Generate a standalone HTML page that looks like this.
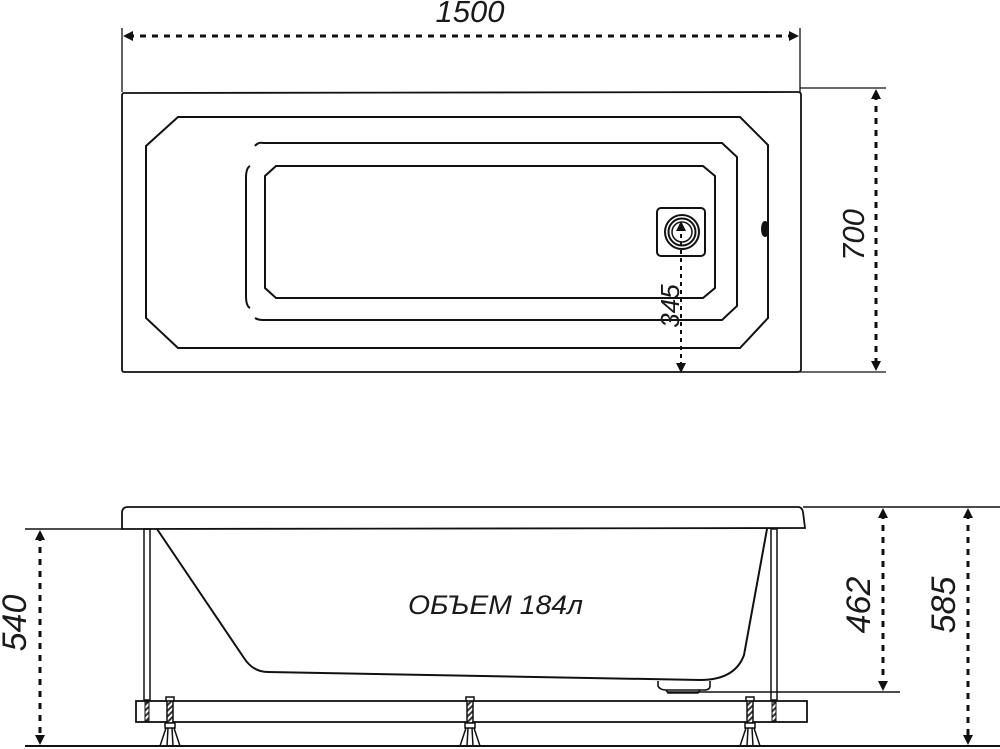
<!DOCTYPE html>
<html><head><meta charset="utf-8"><style>
html,body{margin:0;padding:0;background:#fff;}
svg{display:block;}
text{font-family:"Liberation Sans",sans-serif;font-style:italic;fill:#1a1a1a;}
</style></head><body>
<svg width="1000" height="749" viewBox="0 0 1000 749" xmlns="http://www.w3.org/2000/svg">
<defs>
<marker id="a" viewBox="0 0 10 10" refX="5" refY="5" markerWidth="10" markerHeight="10" orient="auto-start-reverse" markerUnits="userSpaceOnUse"><path d="M0,0 L10,5 L0,10 z" fill="#111"/></marker>
<pattern id="h" width="4" height="4" patternUnits="userSpaceOnUse" patternTransform="rotate(45)"><rect width="4" height="4" fill="#fff"/><rect width="2" height="4" fill="#333"/></pattern>
</defs>
<g fill="none" stroke="#111" stroke-width="2">
<!-- TOP VIEW -->
<path d="M124,93 L798,92 Q801,92 801,95 L801,369 Q801,372 798,372 L124,372 Q122,372 122,369 L122,96 Q122,93 124,93 Z" stroke-width="1.8"/>
<line x1="122" y1="28" x2="122" y2="92" stroke-width="1.3"/>
<line x1="800" y1="28" x2="800" y2="92" stroke-width="1.3"/>
<line x1="800" y1="88" x2="886" y2="88" stroke-width="1.3"/>
<line x1="800" y1="372" x2="886" y2="372" stroke-width="1.3"/>
<path d="M178,117 L740,117 L768,145 L768,318 L740,348 L178,348 L146,318 L146,146 Z"/>
<path d="M263,143 Q258,142 255,146 M263,143 L722,143 L737,157 L737,306 L722,320 L263,320 Q258,320 255,318"/>
<path d="M250,166 Q246,168 246,178 L246,296 Q246,306 250,308"/>
<path d="M276,166 L703,166 L715,176 L715,288 L703,298 L276,298 L265,288 L265,176 Z"/>
<rect x="657" y="208" width="48" height="48" rx="4"/>
<circle cx="682" cy="232" r="17"/><circle cx="682" cy="232" r="13.5"/><circle cx="682" cy="232" r="10" stroke-width="1.5"/>
<ellipse cx="765" cy="229" rx="3" ry="7" fill="#111"/>
<!-- dims top -->
<line x1="128" y1="36" x2="794" y2="36" stroke-width="3" stroke-dasharray="6,6" marker-start="url(#a)" marker-end="url(#a)"/>
<line x1="876" y1="94" x2="876" y2="366" stroke-width="3" stroke-dasharray="6,6" marker-start="url(#a)" marker-end="url(#a)"/>
<line x1="681" y1="226" x2="681" y2="368" stroke-width="2" stroke-dasharray="4,4" marker-start="url(#a)" marker-end="url(#a)"/>

<!-- SIDE VIEW -->
<path d="M128,507 L798,507 Q802,507 803,512 L805,528 L122,529 L122,513 Q122,507 128,507 Z" stroke-width="1.8"/>
<line x1="25" y1="529" x2="122" y2="529" stroke-width="1.5"/>
<line x1="803" y1="507" x2="1000" y2="507" stroke-width="1.5"/>
<path d="M157,529 L244,658 Q253,672 268,672 L700,680 Q735,680 744,655 L767,529"/>
<path d="M658,681 L658,686 Q660,690 666,690 L704,690 Q710,690 710,686 L710,681 M666,690 L668,693 L698,693 L700,690" stroke-width="1.6"/>
<line x1="667" y1="692" x2="900" y2="692" stroke-width="1.5"/>
<rect x="144" y="529" width="6" height="171" stroke-width="1.5"/>
<rect x="771" y="529" width="6" height="171" stroke-width="1.5"/>
<rect x="136" y="701" width="671" height="21" stroke-width="1.8"/>
<line x1="25" y1="746" x2="1000" y2="746" stroke-width="2"/>
</g>
<!-- leg bolts inside platform -->
<rect x="145" y="702" width="4" height="19" fill="url(#h)" stroke="#111" stroke-width="1"/>
<rect x="772" y="702" width="4" height="19" fill="url(#h)" stroke="#111" stroke-width="1"/>
<!-- screws -->
<g stroke="#111" stroke-width="1.5">
<g id="s">
<rect x="166" y="697" width="8" height="4" fill="#fff"/>
<rect x="167" y="701" width="6" height="22" fill="url(#h)"/>
<rect x="165" y="723" width="10" height="5" fill="#fff"/>
<path d="M166,728 L160,746 M174,728 L180,746 M168,728 L167,746 M172,728 L173,746" fill="none"/>
</g>
<use href="#s" x="300"/>
<use href="#s" x="580"/>
</g>
<!-- dims side -->
<g fill="none" stroke="#111" stroke-width="3" stroke-dasharray="6,6">
<line x1="40" y1="535" x2="40" y2="740" marker-start="url(#a)" marker-end="url(#a)"/>
<line x1="883" y1="513" x2="883" y2="686" marker-start="url(#a)" marker-end="url(#a)"/>
<line x1="968" y1="513" x2="968" y2="740" marker-start="url(#a)" marker-end="url(#a)"/>
</g>
<!-- labels -->
<text x="470" y="22" font-size="31" text-anchor="middle">1500</text>
<text transform="translate(864,235) rotate(-90)" font-size="31" text-anchor="middle">700</text>
<text transform="translate(679,306) rotate(-90)" font-size="26" text-anchor="middle">345</text>
<text x="408" y="614" font-size="27" textLength="175" lengthAdjust="spacingAndGlyphs">ОБЪЕМ 184л</text>
<text transform="translate(870,605) rotate(-90)" font-size="34" text-anchor="middle">462</text>
<text transform="translate(955,605) rotate(-90)" font-size="34" text-anchor="middle">585</text>
<text transform="translate(26,623) rotate(-90)" font-size="34" text-anchor="middle">540</text>
</svg>
</body></html>
